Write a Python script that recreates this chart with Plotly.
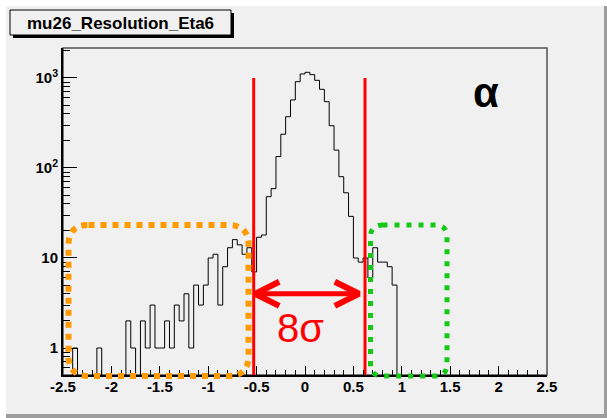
import plotly.graph_objects as go
import numpy as np

# ---------------- data ----------------
title_text = "mu26_Resolution_Eta6"
x_min, x_max, n_bins = -2.5, 2.5, 100
counts = [
    0, 0, 1, 0, 0, 0, 0, 1, 0, 0,
    0, 0, 0, 2, 1, 0, 2, 1, 3, 1,
    1, 2, 1, 3, 2, 4, 1, 5, 3, 5,
    10, 11, 3, 8, 13, 16, 14, 11, 13, 7,
    17, 18, 48, 59, 134, 237, 371, 570, 910, 1108,
    1156, 1089, 942, 748, 545, 295, 158, 80, 53, 29,
    10, 9, 10, 6, 13, 9, 9, 8, 5, 0,
    0, 0, 0, 0, 0, 0, 0, 0, 0, 0,
    0, 0, 0, 0, 0, 0, 0, 0, 0, 0,
    0, 0, 0, 0, 0, 0, 0, 0, 0, 0,
]
x_tick_vals = [-2.5, -2, -1.5, -1, -0.5, 0, 0.5, 1, 1.5, 2, 2.5]
x_tick_text = ["-2.5", "-2", "-1.5", "-1", "-0.5", "0", "0.5", "1", "1.5", "2", "2.5"]
y_tick_vals = [1, 10, 100, 1000]
y_tick_text = ["1", "10", "10<sup>2</sup>", "10<sup>3</sup>"]
y_minor_vals = [0.6, 0.7, 0.8, 0.9, 2, 3, 4, 5, 6, 7, 8, 9,
                20, 30, 40, 50, 60, 70, 80, 90,
                200, 300, 400, 500, 600, 700, 800, 900, 2000]
sigma_cuts = [-0.53, 0.62]       # red cut lines (8 sigma window)
cut_top = 1000
arrow_ends = [-0.516, 0.558]
arrow_level = 4.0
sigma_label = "8σ"
corner_label = "α"

# ---------------- geometry helpers (pixel -> paper) ----------------
W, H = 607, 418
L, R, T, B = 63, 547, 48, 375
def fx(px):
    return (px - L) / (R - L)
def fy(py):
    return (B - py) / (B - T)

def rounded_rect(x0, y0, x1, y1, r):
    p = []
    p.append(f"M {fx(x0 + r)},{fy(y0)}")
    p.append(f"L {fx(x1 - r)},{fy(y0)}")
    p.append(f"Q {fx(x1)},{fy(y0)} {fx(x1)},{fy(y0 + r)}")
    p.append(f"L {fx(x1)},{fy(y1 - r)}")
    p.append(f"Q {fx(x1)},{fy(y1)} {fx(x1 - r)},{fy(y1)}")
    p.append(f"L {fx(x0 + r)},{fy(y1)}")
    p.append(f"Q {fx(x0)},{fy(y1)} {fx(x0)},{fy(y1 - r)}")
    p.append(f"L {fx(x0)},{fy(y0 + r)}")
    p.append(f"Q {fx(x0)},{fy(y0)} {fx(x0 + r)},{fy(y0)}")
    p.append("Z")
    return " ".join(p)

FONT = "Liberation Sans, Arial, sans-serif"
BG = "#f0f0f0"
red = "#ff0000"

fig = go.Figure()

# histogram outline
edges = np.linspace(x_min, x_max, n_bins + 1)
floor_val = 0.1
ys = [c if c > 0 else floor_val for c in counts]
ys = ys + [ys[-1]]
fig.add_trace(go.Scatter(x=edges, y=ys, mode="lines",
                         line=dict(shape="hv", color="black", width=1),
                         hoverinfo="skip", showlegend=False))

# red cut lines
for xc in sigma_cuts:
    fig.add_trace(go.Scatter(x=[xc, xc], y=[cut_top, floor_val], mode="lines",
                             line=dict(color=red, width=3),
                             hoverinfo="skip", showlegend=False))

# double arrow
fig.add_trace(go.Scatter(x=arrow_ends, y=[arrow_level, arrow_level], mode="lines",
                         line=dict(color=red, width=5), hoverinfo="skip", showlegend=False))
hdx, hfac = 0.25, 1.36
xl, xr = arrow_ends
fig.add_trace(go.Scatter(x=[xl + hdx, xl, xl + hdx],
                         y=[arrow_level * hfac, arrow_level, arrow_level / hfac],
                         mode="lines", line=dict(color=red, width=6),
                         hoverinfo="skip", showlegend=False))
fig.add_trace(go.Scatter(x=[xr - hdx, xr, xr - hdx],
                         y=[arrow_level * hfac, arrow_level, arrow_level / hfac],
                         mode="lines", line=dict(color=red, width=6),
                         hoverinfo="skip", showlegend=False))

shapes = []
# canvas bevel
shapes.append(dict(type="rect", xref="paper", yref="paper", layer="below",
                   x0=fx(0), x1=fx(W), y0=fy(H), y1=fy(0),
                   fillcolor="white", line=dict(width=0)))
shapes.append(dict(type="rect", xref="paper", yref="paper", layer="below",
                   x0=fx(6), x1=fx(W), y0=fy(H), y1=fy(6),
                   fillcolor="#9c9c9c", line=dict(width=0)))
shapes.append(dict(type="rect", xref="paper", yref="paper", layer="below",
                   x0=fx(6), x1=fx(W - 3), y0=fy(H - 4), y1=fy(6),
                   fillcolor=BG, line=dict(width=0)))
# frame
shapes.append(dict(type="rect", xref="paper", yref="paper", layer="below",
                   x0=0, x1=1, y0=0, y1=1, fillcolor=BG,
                   line=dict(color="#505050", width=1.5)))
# title box
shapes.append(dict(type="rect", xref="paper", yref="paper",
                   x0=fx(13), x1=fx(234), y0=fy(38), y1=fy(13),
                   fillcolor="black", line=dict(width=0)))
shapes.append(dict(type="rect", xref="paper", yref="paper",
                   x0=fx(10), x1=fx(231), y0=fy(35), y1=fy(10),
                   fillcolor=BG, line=dict(color="black", width=1)))
# dotted boxes
shapes.append(dict(type="path", xref="paper", yref="paper",
                   path=rounded_rect(68.5, 225, 248.5, 376, 20),
                   line=dict(color="#ff9a00", width=6, dash="6px,6px")))
shapes.append(dict(type="path", xref="paper", yref="paper",
                   path=rounded_rect(370.5, 225, 447, 376, 12),
                   line=dict(color="#14c814", width=5, dash="5px,7px")))

annotations = [
    dict(text=f"<b>{title_text}</b>", xref="paper", yref="paper",
         x=fx(120), y=fy(23), xanchor="center", yanchor="middle", showarrow=False,
         font=dict(family=FONT, size=17, color="black")),
    dict(text=sigma_label, xref="x", yref="paper", x=-0.05, y=fy(328),
         xanchor="center", yanchor="middle", showarrow=False,
         font=dict(family=FONT, size=40, color=red)),
    dict(text=f"<b>{corner_label}</b>", xref="paper", yref="paper", x=fx(486), y=fy(93),
         xanchor="center", yanchor="middle", showarrow=False,
         font=dict(family=FONT, size=42, color="black")),
]

fig.update_layout(
    width=W, height=H,
    margin=dict(l=L, r=W - R, t=T, b=H - B, pad=0),
    paper_bgcolor="white", plot_bgcolor=BG,
    shapes=shapes, annotations=annotations, showlegend=False,
    xaxis=dict(range=[x_min, x_max], showgrid=False, zeroline=False,
               tickmode="array", tickvals=x_tick_vals, ticktext=x_tick_text,
               ticks="inside", ticklen=9, tickwidth=1, tickcolor="black",
               minor=dict(ticks="inside", ticklen=5, tickwidth=1, tickcolor="black",
                          tick0=x_min, dtick=0.1),
               ticklabelstandoff=-3,
               showline=True, linecolor="black", linewidth=2, mirror=False,
               tickfont=dict(family=FONT, size=15, color="black", weight="bold")),
    yaxis=dict(type="log", range=[-0.3, 3.333], showgrid=False, zeroline=False,
               tickmode="array", tickvals=y_tick_vals, ticktext=y_tick_text,
               ticks="inside", ticklen=14, tickwidth=1, tickcolor="black",
               minor=dict(ticks="inside", ticklen=7, tickwidth=1, tickcolor="black",
                          tickvals=y_minor_vals),
               showline=True, linecolor="black", linewidth=2, mirror=False,
               tickfont=dict(family=FONT, size=15, color="black", weight="bold")),
)

fig.write_html("out.html")
